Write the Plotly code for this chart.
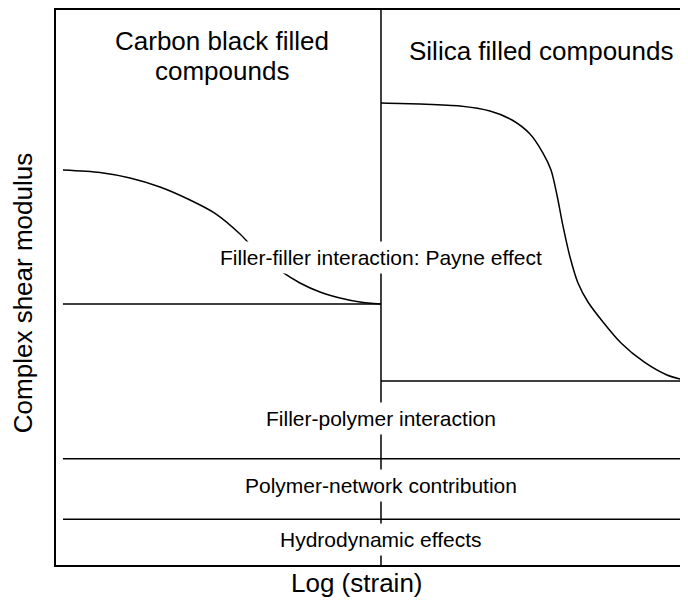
import plotly.graph_objects as go

# curve points (x: log strain, y: modulus, arbitrary units)
carbon_x = [1.26, 7.11, 11.85, 16.59, 21.33, 25.28, 29.23, 32.39, 35.86, 38.70,
            41.86, 45.02, 48.18, 51.50]
carbon_y = [70.97, 70.52, 69.53, 67.92, 65.59, 63.20, 59.50, 55.73, 52.69, 50.72,
            49.10, 48.03, 47.31, 46.95]

silica_x = [51.50, 57.66, 63.98, 68.72, 72.20, 75.04, 77.09, 78.36, 79.30, 80.25,
            81.36, 82.62, 84.20, 86.57, 89.42, 93.05, 96.68, 100.0]
silica_y = [82.97, 82.80, 82.44, 81.54, 79.93, 77.42, 74.01, 70.97, 66.49, 60.95,
            55.38, 50.72, 47.31, 43.73, 39.96, 36.56, 34.23, 33.15]

# flat contribution levels
divider_x = 51.5
left_start = 1.26
carbon_floor = 46.95
silica_floor = 33.15
polymer_level = 19.2
hydro_level = 8.4

region_labels = ["Filler-filler interaction: Payne effect", "Filler-polymer interaction",
                 "Polymer-network contribution", "Hydrodynamic effects"]
region_label_y = [55.2, 26.5, 14.5, 4.7]

title_lines = ["Carbon black filled", "compounds", "Silica filled compounds"]
title_x = [26.4, 26.4, 76.8]
title_y = [94.1, 88.7, 92.3]

FONT = "Liberation Sans, Arial, sans-serif"
line = dict(color="black", width=1.5)

fig = go.Figure()

fig.add_trace(go.Scatter(x=carbon_x, y=carbon_y, mode="lines",
                         line=dict(line, shape="spline", smoothing=0.8)))
fig.add_trace(go.Scatter(x=silica_x, y=silica_y, mode="lines",
                         line=dict(line, shape="spline", smoothing=0.8)))

fig.add_trace(go.Scatter(x=[divider_x, divider_x], y=[0, 100], mode="lines", line=line))
fig.add_trace(go.Scatter(x=[left_start, divider_x], y=[carbon_floor, carbon_floor], mode="lines", line=line))
fig.add_trace(go.Scatter(x=[divider_x, 100], y=[silica_floor, silica_floor], mode="lines", line=line))
fig.add_trace(go.Scatter(x=[left_start, 100], y=[polymer_level, polymer_level], mode="lines", line=line))
fig.add_trace(go.Scatter(x=[left_start, 100], y=[hydro_level, hydro_level], mode="lines", line=line))

for txt, yy in zip(region_labels, region_label_y):
    fig.add_annotation(x=divider_x, y=yy, text=txt, showarrow=False, bgcolor="white",
                       borderpad=4, font=dict(family=FONT, size=21, color="black"))

for txt, xx, yy in zip(title_lines, title_x, title_y):
    fig.add_annotation(x=xx, y=yy, text=txt, showarrow=False, xanchor="center",
                       font=dict(family=FONT, size=26, color="black"))

fig.add_annotation(xref="paper", yref="paper", x=0.476, y=-0.032, xanchor="center", yanchor="middle",
                   text="Log (strain)", showarrow=False,
                   font=dict(family=FONT, size=26, color="black"))
fig.add_annotation(xref="paper", yref="paper", x=-0.052, y=0.49, xanchor="center", yanchor="middle",
                   textangle=-90, text="Complex shear modulus", showarrow=False,
                   font=dict(family=FONT, size=26, color="black"))

# the page body has an 8px margin, so the figure is sized to fill the rest of the window
fig.update_layout(
    width=680, height=593,
    margin=dict(l=48, r=0, t=2, b=36),
    plot_bgcolor="white", paper_bgcolor="white",
    showlegend=False,
)
fig.update_xaxes(range=[0.16, 100], showgrid=False, zeroline=False, showticklabels=False, ticks="",
                 showline=True, linecolor="black", linewidth=2, mirror=True)
fig.update_yaxes(range=[0.18, 99.64], showgrid=False, zeroline=False, showticklabels=False, ticks="",
                 showline=True, linecolor="black", linewidth=2)

fig.write_html("out.html")
